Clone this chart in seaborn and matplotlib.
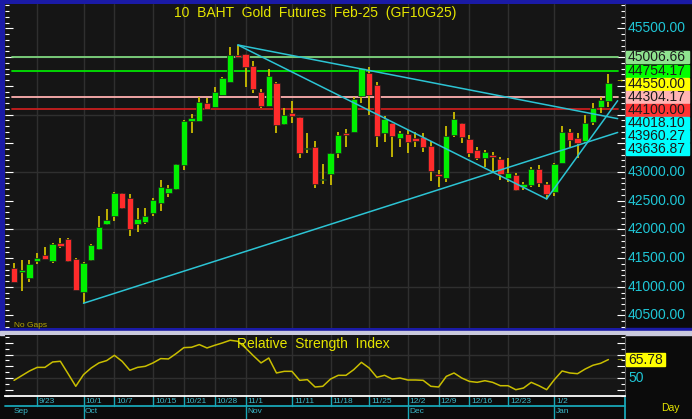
import numpy as np
import pandas as pd
import matplotlib
matplotlib.use("Agg")
import matplotlib.pyplot as plt
import matplotlib.transforms as mtransforms
from matplotlib.patches import Rectangle
from matplotlib.ticker import MultipleLocator
import seaborn as sns

# ---------------- data ----------------
title = "10  BAHT  Gold  Futures  Feb-25  (GF10G25)"
start_date = "2024-09-18"
end_date = "2025-01-13"
holidays = ["2024-10-14", "2024-10-23", "2024-12-05", "2024-12-10",
            "2024-12-31", "2025-01-01"]

opens = [41322, 41260, 41159, 41450, 41554, 41455, 41763, 41828, 41479, 40915,
         41467, 41659, 42094, 42234, 42629, 42547, 42094, 42124, 42281, 42465,
         42639, 42699, 43122, 43894, 43894, 44202, 44138, 44341, 44573, 45038,
         45056, 44847, 44394, 44150, 44545, 43836, 44022, 43953, 43395, 43430,
         42861, 42960, 43336, 43674, 43702, 44324, 44719, 44516, 43674, 43859,
         43587, 43657, 43598, 43604, 43453, 42965, 42890, 43645, 43848, 43570,
         43383, 43239, 43296, 43221, 42901, 42948, 42744, 42774, 43052, 42791,
         42657, 43151, 43702, 43587, 43545, 43877, 44138, 44242]
highs = [41410, 41467, 41467, 41584, 41688, 41768, 41845, 41845, 41497, 41438,
         41740, 42234, 42350, 42657, 42640, 42617, 42378, 42368, 42542, 42861,
         42774, 43140, 43900, 44010, 44312, 44284, 44486, 44660, 45183, 45212,
         45056, 44939, 44440, 44789, 44573, 44110, 44242, 43953, 43685, 43540,
         43139, 43326, 43702, 43749, 44312, 44806, 44824, 44573, 43976, 43859,
         43714, 43732, 43702, 43674, 43545, 43035, 43801, 44050, 43860, 43645,
         43430, 43383, 43354, 43267, 43239, 42977, 42831, 43093, 43122, 42831,
         43151, 43801, 43744, 43674, 43993, 44197, 44312, 44707]
lows = [41079, 40927, 41090, 41392, 41479, 41410, 41676, 41438, 40944, 40713,
        41450, 41640, 42077, 42152, 42350, 41885, 41960, 42094, 42234, 42326,
        42570, 42682, 43035, 43685, 43894, 44097, 44138, 44341, 44573, 44986,
        44486, 44371, 44120, 44150, 43685, 43819, 43848, 43239, 43326, 42716,
        42791, 42774, 43239, 43441, 43702, 44197, 43993, 43441, 43528, 43267,
        43441, 43336, 43441, 43354, 42849, 42744, 42831, 43615, 43510, 43267,
        43209, 43093, 42988, 42861, 42831, 42674, 42686, 42744, 42744, 42530,
        42587, 43151, 43441, 43239, 43500, 43819, 44022, 44138]
closes = [41079, 41290, 41392, 41507, 41479, 41746, 41711, 41450, 40944, 41410,
          41728, 42037, 42164, 42629, 42378, 42002, 42176, 42234, 42512, 42733,
          42716, 43134, 43894, 43946, 44225, 44097, 44394, 44632, 45038, 45003,
          44834, 44446, 44155, 44672, 43819, 43988, 43975, 43326, 43423, 42791,
          42870, 43326, 43645, 43639, 44271, 44806, 44341, 43627, 43918, 43627,
          43674, 43528, 43545, 43430, 43023, 42936, 43632, 43918, 43604, 43326,
          43239, 43348, 43267, 42965, 42977, 42686, 42786, 43052, 42814, 42617,
          43134, 43702, 43557, 43510, 43848, 44110, 44254, 44550]
rsi = [48, 52, 56, 59.1, 59.1, 63.7, 64.3, 53.7, 42.9, 52.9,
       58.6, 62.9, 64.9, 69.4, 64.3, 56.6, 59.1, 60, 62.9, 66.6,
       66.3, 70.9, 76, 76.3, 78.6, 75.7, 78, 80, 82.3, 81.4,
       75.7, 69.1, 62.9, 67.1, 54.3, 55.7, 55.7, 48, 48.6, 42.3,
       42.9, 49.1, 52.3, 52.3, 57.1, 63.4, 58.6, 50.6, 52.3, 49.1,
       50, 48.3, 48.3, 48, 42.9, 42.3, 51.4, 54.3, 50, 47.1,
       46.3, 47.7, 46.3, 43.4, 43.4, 40, 41.4, 46.3, 43.4, 40,
       48.6, 56, 54.3, 53.7, 57.7, 60.9, 62.6, 65.78]

date_ticks = ["2024-09-23", "2024-10-01", "2024-10-07", "2024-10-15", "2024-10-21",
              "2024-10-28", "2024-11-01", "2024-11-11", "2024-11-18", "2024-11-25",
              "2024-12-02", "2024-12-09", "2024-12-16", "2024-12-23", "2025-01-02"]
date_tick_labels = ["9/23", "10/1", "10/7", "10/15", "10/21", "10/28", "11/1",
                    "11/11", "11/18", "11/25", "12/2", "12/9", "12/16", "12/23", "1/2"]
month_starts = ["2024-09-18", "2024-10-01", "2024-11-01", "2024-12-02", "2025-01-02"]
month_labels = ["Sep", "Oct", "Nov", "Dec", "Jan"]

price_tick_labels = [45500, 43000, 42500, 42000, 41500, 41000, 40500]
level_values = [45006.66, 44754.17, 44304.17, 44100.00]
level_line_colors = ["#7ED67E", "#00E400", "#FFB0B0", "#C81E1E"]
level_box_colors = ["#8FE38F", "#00FF00", "#FFB4B4", "#FF3333"]
last_price = 44550.00
trend_values = [44018.10, 43960.27, 43636.87]
rsi_last = 65.78
rsi_level = 50

# ---------------- setup ----------------
W, H = 692, 419
sns.set_style("dark")
plt.rcParams["font.family"] = ["Liberation Sans", "DejaVu Sans"]

dates = pd.bdate_range(start_date, end_date, freq="C", holidays=holidays)
idx = np.arange(len(dates))
pos = {d: i for i, d in enumerate(dates)}
tick_idx = [pos[pd.Timestamp(d)] for d in date_ticks]
month_idx = [pos[pd.Timestamp(d)] for d in month_starts]

def fx(x):
    return x / W

def fy(y):
    return 1 - y / H

fig = plt.figure(figsize=(W / 100, H / 100), dpi=100, facecolor="#0b0b0b")

# frame decorations
fig.add_artist(Rectangle((0, fy(330)), fx(4), 330 / H, transform=fig.transFigure,
                         color="#1a1aa6", zorder=0))
fig.add_artist(Rectangle((0, fy(3)), 1, 3 / H, transform=fig.transFigure,
                         color="#1a1aa6", zorder=0))
fig.add_artist(Rectangle((0, fy(331)), 1, 3 / H, transform=fig.transFigure,
                         color="#1a1aa6", zorder=0))
fig.add_artist(Rectangle((0, fy(335)), 1, 4 / H, transform=fig.transFigure,
                         color="#c9c9dd", zorder=0))

XL = (-1.17, 79.15)
ax = fig.add_axes([fx(5), fy(328), fx(620), 324 / H])
ax2 = fig.add_axes([fx(5), fy(396), fx(620), 61 / H])
for a in (ax, ax2):
    a.set_facecolor("#151515")
    a.set_xlim(*XL)
    a.set_xticks([])
    a.grid(False)
    for s in ("left", "top", "bottom"):
        a.spines[s].set_visible(False)
    a.spines["right"].set_color("#5a5a5a")
    a.tick_params(axis="y", which="both", direction="in", left=True, right=True,
                  labelleft=False, labelright=False, colors="white", width=0.8)
    a.tick_params(axis="y", which="major", length=6)
    a.tick_params(axis="y", which="minor", length=3)

ax.set_ylim(40282, 45926)
ax.yaxis.set_major_locator(MultipleLocator(500))
ax.yaxis.set_minor_locator(MultipleLocator(100))
ax2.set_ylim(34.6, 86.8)
ax2.yaxis.set_major_locator(MultipleLocator(10))
ax2.yaxis.set_minor_locator(MultipleLocator(5))
ax2.spines["bottom"].set_visible(True)
ax2.spines["bottom"].set_color("white")
ax2.spines["bottom"].set_linewidth(1.3)

grid_c = "#2f2f2f"
for t in tick_idx:
    ax.axvline(t, color=grid_c, lw=1.0, zorder=0)
    ax2.axvline(t, color=grid_c, lw=1.0, zorder=0)
for v in range(41000, 46000, 1000):
    ax.axhline(v, color=grid_c, lw=1.0, zorder=0)
for v in (50, 70):
    ax2.axhline(v, color=grid_c, lw=1.0, zorder=0)

# ---------------- candles ----------------
o = np.array(opens, float)
h = np.array(highs, float)
l = np.array(lows, float)
c = np.array(closes, float)
up = c >= o
ax.vlines(idx, l, h, color="#CDBE00", lw=1.3, zorder=2)
body_lo = np.minimum(o, c)
body_h = np.maximum(np.abs(c - o), 18)
ax.bar(idx[up], body_h[up], bottom=body_lo[up], width=0.82, color="#00F000",
       edgecolor="#202020", linewidth=0.5, zorder=3)
ax.bar(idx[~up], body_h[~up], bottom=body_lo[~up], width=0.82, color="#FF2B2B",
       edgecolor="#202020", linewidth=0.5, zorder=3)

# horizontal levels
for v, col in zip(level_values, level_line_colors):
    ax.plot([-0.2, 78.2], [v, v], color=col, lw=1.3, zorder=1.5)

# trend lines
p_low, p_peak, p_v = 9, 29, 69
end_x = 78.2
cyan = "#2CC4D4"
def extend(x0, y0, x1, y1, xe):
    return y0 + (y1 - y0) * (xe - x0) / (x1 - x0)
last_i = len(idx) - 1
ax.plot([p_low, end_x], [lows[p_low], extend(p_low, lows[p_low], last_i, trend_values[2], end_x)],
        color=cyan, lw=1.1, zorder=4)
ax.plot([p_peak, end_x], [highs[p_peak], extend(p_peak, highs[p_peak], last_i, trend_values[1], end_x)],
        color=cyan, lw=1.1, zorder=4)
ax.plot([p_peak, p_v], [highs[p_peak], lows[p_v]], color=cyan, lw=1.1, zorder=4)
ax.plot([p_v, end_x], [lows[p_v], extend(p_v, lows[p_v], last_i, trend_values[0], end_x)],
        color=cyan, lw=1.1, zorder=4)

# ---------------- RSI ----------------
sns.lineplot(x=idx, y=rsi, ax=ax2, color="#C9BE00", lw=1.1, zorder=3)
ax2.set_xlim(*XL)
ax2.set_ylim(34.6, 86.8)
ax2.set_xlabel("")
ax2.set_ylabel("")

# ---------------- texts ----------------
yellow = "#E6E600"
fig.text(fx(315), fy(13), title, ha="center", va="center", color=yellow, fontsize=10)
fig.text(fx(313), fy(344), "Relative  Strength  Index", ha="center", va="center",
         color=yellow, fontsize=10)
fig.text(fx(14), fy(325), "No Gaps", ha="left", va="center", color="#B8A800", fontsize=6)
fig.text(fx(670), fy(408), "Day", ha="center", va="center", color=yellow, fontsize=7.5)

def figy(a, v):
    return a.transData.transform((0, v))[1] / fig.bbox.height

label_c = "#1FC6D6"
for v in price_tick_labels:
    fig.text(fx(628), figy(ax, v), f"{v:.2f}", ha="left", va="center",
             color=label_c, fontsize=10)

boxes = [(level_values[0], level_box_colors[0]), (level_values[1], level_box_colors[1]),
         (last_price, "#FFFF00"), (level_values[2], level_box_colors[2]),
         (level_values[3], level_box_colors[3])] + [(v, "#00FFFF") for v in trend_values]
bh = 13 / H
prev = None
for v, bg in boxes:
    y = figy(ax, v)
    if prev is not None and y > prev - bh:
        y = prev - bh
    prev = y
    fig.add_artist(Rectangle((fx(626), y - bh / 2 + 0.5 / H), fx(63), bh - 1 / H,
                             transform=fig.transFigure, color=bg, zorder=5))
    fig.text(fx(628), y, f"{v:.2f}", ha="left", va="center", color="#1c1c1c",
             fontsize=10, zorder=6)
fig.text(fx(619), figy(ax, last_price) + 2 / H, "→", ha="center", va="center",
         color=yellow, fontsize=6)

# RSI labels
yr = figy(ax2, rsi_last)
fig.add_artist(Rectangle((fx(626), yr - bh / 2), fx(39), bh, transform=fig.transFigure,
                         color="#FFFF00", zorder=5))
fig.text(fx(628), yr, f"{rsi_last:.2f}", ha="left", va="center", color="#1c1c1c",
         fontsize=10, zorder=6)
fig.text(fx(628), figy(ax2, rsi_level), f"{rsi_level}", ha="left", va="center",
         color=label_c, fontsize=10)
fig.text(fx(619), yr, "→", ha="center", va="center", color=yellow, fontsize=6)

# date strip
tr = mtransforms.blended_transform_factory(ax2.transData, fig.transFigure)
strip_c = "#18A6B6"
for t, lab in zip(tick_idx, date_tick_labels):
    ax2.plot([t, t], [fy(396), fy(406)], color=strip_c, lw=1.0, transform=tr, clip_on=False)
    ax2.text(t + 0.25, fy(401.5), lab, transform=tr, ha="left", va="center",
             color="#3CB8C8", fontsize=6, clip_on=False)
ax2.plot([XL[0], XL[1]], [fy(406), fy(406)], color=strip_c, lw=1.3, transform=tr, clip_on=False)
ax2.plot([XL[1], XL[1]], [fy(396), fy(419)], color=strip_c, lw=1.3, transform=tr, clip_on=False)
for k, (m, lab) in enumerate(zip(month_idx, month_labels)):
    if k > 0:
        ax2.plot([m, m], [fy(406), fy(419)], color=strip_c, lw=1.0, transform=tr, clip_on=False)
    ax2.text(m + 0.2 if k > 0 else m - 0.1, fy(411.5), lab, transform=tr, ha="left",
             va="center", color="#3CB8C8", fontsize=6, clip_on=False)

fig.savefig("out.png", dpi=100, facecolor=fig.get_facecolor())
